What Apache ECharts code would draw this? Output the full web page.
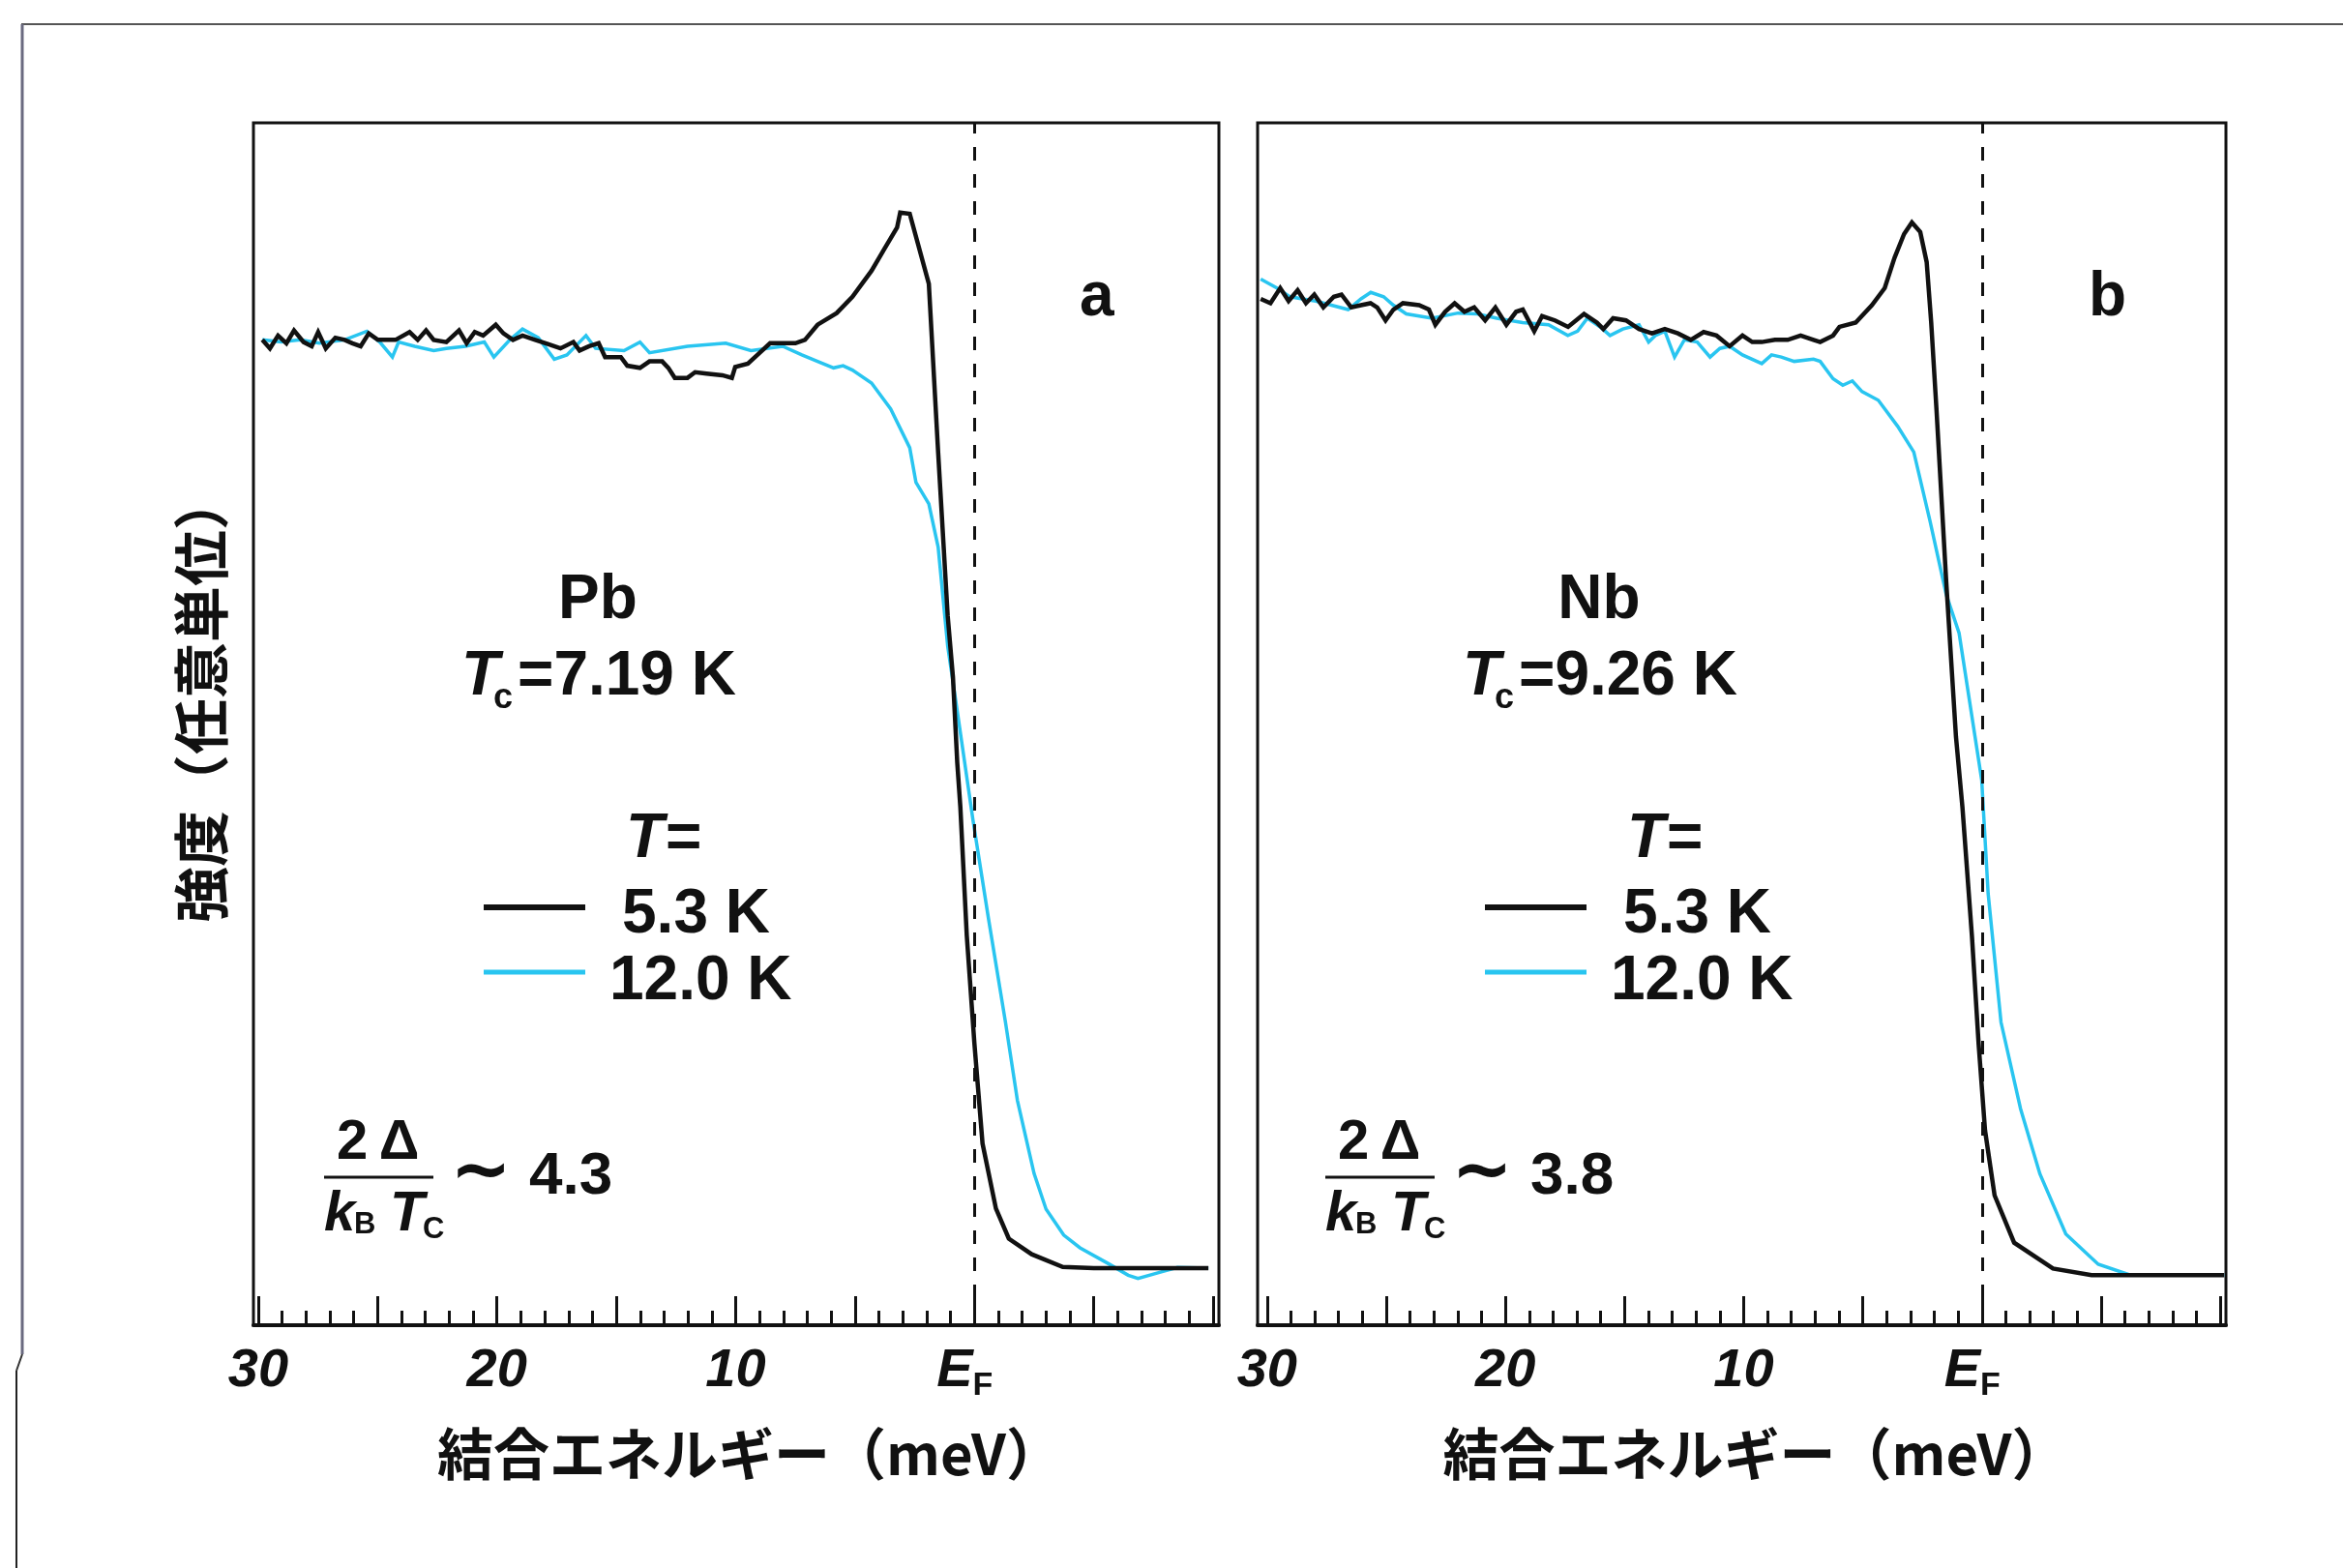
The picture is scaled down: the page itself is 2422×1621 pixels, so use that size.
<!DOCTYPE html>
<html>
<head>
<meta charset="utf-8">
<title>Pb / Nb 超伝導ギャップ</title>
<script src="https://cdn.jsdelivr.net/npm/echarts@6/dist/echarts.min.js"></script>
<style>
    html, body { margin: 0; padding: 0; background: #fff; }
    #chart { width: 2422px; height: 1621px; }
</style>
</head>
<body>
<div id="chart"></div>
<script>
// energy ticks (meV, binding energy; 0 = E_F)
let majorTicks = [-10, -5, 0, 5, 10, 15, 20, 25, 30];
let minorTicks = [-9, -8, -7, -6, -4, -3, -2, -1, 1, 2, 3, 4, 6, 7, 8, 9, 11, 12, 13, 14,
    16, 17, 18, 19, 21, 22, 23, 24, 26, 27, 28, 29];
let labelTicks = [0, 10, 20, 30];

// panel a : Pb, [binding energy, intensity]
let pbLow = [ // T = 5.3 K
    [29.83, 81.95], [29.51, 81.24], [29.17, 82.31], [28.82, 81.67], [28.50, 82.74], [28.10, 81.77],
    [27.76, 81.42], [27.49, 82.60], [27.17, 81.24], [26.77, 82.13], [26.38, 81.95], [26.06, 81.67],
    [25.71, 81.42], [25.37, 82.49], [24.99, 81.95], [24.25, 81.95], [23.66, 82.60], [23.32, 81.95],
    [22.97, 82.74], [22.65, 81.95], [22.12, 81.77], [21.59, 82.74], [21.27, 81.67], [20.93, 82.60],
    [20.58, 82.31], [20.05, 83.21], [19.73, 82.49], [19.33, 81.95], [18.93, 82.31], [18.40, 81.95],
    [17.87, 81.60], [17.34, 81.24], [16.80, 81.77], [16.54, 81.06], [16.14, 81.42], [15.74, 81.67],
    [15.47, 80.52], [14.81, 80.52], [14.54, 79.80], [14.01, 79.62], [13.61, 80.16], [13.08, 80.16],
    [12.82, 79.62], [12.55, 78.79], [12.02, 78.79], [11.70, 79.26], [11.22, 79.15], [10.56, 79.01],
    [10.16, 78.79], [10.02, 79.69], [9.49, 79.98], [9.09, 80.70], [8.56, 81.67], [7.50, 81.67],
    [7.10, 81.95], [6.57, 83.21], [5.77, 84.18], [5.11, 85.54], [4.31, 87.70], [3.78, 89.49],
    [3.24, 91.29], [3.11, 92.54], [2.71, 92.44], [1.91, 86.62], [1.52, 72.6], [1.12, 59.0],
    [0.90, 53.9], [0.72, 46.8], [0.59, 43.1], [0.32, 32.4], [0.0, 23.4], [-0.34, 15.1],
    [-0.9, 9.7], [-1.44, 7.2], [-2.4, 5.9], [-3.7, 4.85], [-5.0, 4.75], [-9.8, 4.75]
];
let pbHigh = [ // T = 12.0 K
    [29.83, 81.95], [29.03, 81.77], [28.24, 81.95], [27.44, 81.67], [26.38, 81.95], [25.45, 82.67],
    [24.91, 81.77], [24.38, 80.52], [24.12, 81.77], [23.45, 81.42], [22.65, 81.06], [22.12, 81.24],
    [21.32, 81.42], [20.53, 81.77], [20.13, 80.52], [19.46, 81.95], [18.93, 82.85], [18.27, 82.13],
    [17.60, 80.34], [17.07, 80.70], [16.27, 82.31], [15.87, 81.24], [14.68, 81.06], [14.01, 81.77],
    [13.61, 80.88], [12.02, 81.42], [10.42, 81.67], [9.36, 81.06], [8.03, 81.42], [7.23, 80.70],
    [6.57, 80.16], [5.90, 79.62], [5.50, 79.80], [5.11, 79.44], [4.31, 78.36], [3.51, 76.21],
    [2.71, 72.98], [2.45, 70.11], [1.91, 68.31], [1.52, 64.72], [1.12, 56.47], [0.72, 51.08],
    [0.06, 42.0], [-0.59, 33.8], [-1.3, 25.2], [-1.8, 18.7], [-2.5, 12.6], [-3.0, 9.65],
    [-3.74, 7.5], [-4.42, 6.44], [-5.63, 5.1], [-6.44, 4.16], [-6.85, 3.89], [-7.79, 4.42],
    [-8.5, 4.8], [-9.8, 4.75]
];

// panel b : Nb
let nbLow = [ // T = 5.3 K
    [30.27, 85.36], [29.86, 85.00], [29.45, 86.26], [29.10, 85.18], [28.72, 86.08], [28.37, 85.00],
    [28.02, 85.72], [27.64, 84.65], [27.20, 85.54], [26.88, 85.72], [26.47, 84.65], [26.06, 84.83],
    [25.66, 85.00], [25.38, 84.65], [25.03, 83.57], [24.70, 84.47], [24.30, 85.00], [23.62, 84.83],
    [23.21, 84.47], [22.94, 83.21], [22.53, 84.29], [22.13, 85.00], [21.72, 84.29], [21.31, 84.65],
    [20.85, 83.57], [20.42, 84.65], [19.96, 83.21], [19.55, 84.29], [19.27, 84.47], [18.79, 82.67],
    [18.46, 83.93], [17.92, 83.57], [17.37, 83.03], [16.70, 84.11], [16.16, 83.39], [15.89, 82.85],
    [15.48, 83.75], [14.94, 83.57], [14.39, 82.85], [13.85, 82.49], [13.31, 82.85], [12.76, 82.49],
    [12.22, 81.95], [11.68, 82.60], [11.14, 82.31], [10.59, 81.42], [10.05, 82.31], [9.64, 81.77],
    [9.24, 81.77], [8.69, 81.95], [8.15, 81.95], [7.61, 82.31], [7.07, 81.95], [6.79, 81.77],
    [6.25, 82.31], [5.98, 83.03], [5.30, 83.39], [4.62, 84.83], [4.08, 86.26], [3.67, 88.77],
    [3.27, 90.75], [2.94, 91.72], [2.59, 90.93], [2.32, 88.42], [2.13, 83.39], [1.91, 76.21],
    [1.50, 61.85], [1.09, 48.93], [0.82, 43.1], [0.42, 32.35], [0.14, 23.4], [-0.13, 16.2],
    [-0.53, 10.8], [-1.35, 6.86], [-2.98, 4.71], [-4.6, 4.17], [-10.17, 4.17]
];
let nbHigh = [ // T = 12.0 K
    [30.27, 87.0], [29.59, 86.26], [29.05, 85.54], [27.96, 85.18], [26.60, 84.47], [26.06, 85.36],
    [25.65, 85.90], [25.11, 85.54], [24.70, 84.83], [24.16, 84.11], [23.08, 83.75], [21.99, 84.18],
    [21.18, 84.11], [20.36, 83.75], [19.28, 83.39], [18.19, 83.21], [17.38, 82.31], [16.97, 82.67],
    [16.56, 83.75], [16.02, 83.03], [15.61, 82.31], [15.07, 82.85], [14.39, 83.21], [13.99, 81.77],
    [13.71, 82.31], [13.31, 82.67], [12.90, 80.52], [12.49, 81.95], [11.95, 81.77], [11.41, 80.52],
    [11.00, 81.24], [10.59, 81.42], [10.05, 80.70], [9.24, 79.98], [8.83, 80.70], [8.42, 80.52],
    [7.88, 80.16], [7.07, 80.34], [6.79, 80.16], [6.25, 78.72], [5.84, 78.18], [5.44, 78.54],
    [5.03, 77.65], [4.35, 76.93], [3.54, 74.77], [2.86, 72.62], [2.18, 66.88], [1.50, 60.77],
    [0.96, 57.57], [0.01, 45.34], [-0.26, 35.9], [-0.80, 25.2], [-1.62, 18.0], [-2.43, 12.6],
    [-3.52, 7.58], [-4.88, 5.07], [-6.23, 4.17], [-10.17, 4.17]
];

let black = '#111111';
let cyan = '#29c5f0';
let sans = '"Liberation Sans", Arial, sans-serif';
let cjk = '"Noto Sans CJK JP", sans-serif';

function energyAxes(gridIndex, min, max) {
    let major = {
        type: 'value', gridIndex: gridIndex, position: 'bottom', inverse: true,
        min: min, max: max,
        axisLine: { show: true, lineStyle: { color: black, width: 4 } },
        axisTick: { show: true, inside: true, length: 30, customValues: majorTicks,
            lineStyle: { color: black, width: 3 } },
        axisLabel: {
            show: true, customValues: labelTicks, margin: 20,
            fontFamily: sans, fontSize: 56, fontWeight: 'bold', fontStyle: 'italic', color: black,
            formatter: function (v) { return v === 0 ? '{e|E}{f|F}' : String(v); },
            rich: {
                e: { fontFamily: sans, fontSize: 56, fontWeight: 'bold', fontStyle: 'italic',
                    color: black, lineHeight: 60, verticalAlign: 'top' },
                f: { fontFamily: sans, fontSize: 34, fontWeight: 'bold', fontStyle: 'normal',
                    color: black, lineHeight: 34, verticalAlign: 'bottom', padding: [0, 20, 0, 0] }
            }
        },
        splitLine: { show: false },
        name: '結合エネルギー（meV）', nameLocation: 'middle', nameGap: 104,
        nameTextStyle: { fontFamily: cjk, fontSize: 58, fontWeight: 'bold', color: black,
            padding: [0, 0, 0, 28] }
    };
    let minor = {
        type: 'value', gridIndex: gridIndex, position: 'bottom', inverse: true,
        min: min, max: max,
        axisLine: { show: false },
        axisTick: { show: true, inside: true, length: 15, customValues: minorTicks,
            lineStyle: { color: black, width: 3 } },
        axisLabel: { show: false },
        splitLine: { show: false }
    };
    return [major, minor];
}

function lineSeries(data, axisIndex, color, width, z, withEF) {
    let s = {
        type: 'line', xAxisIndex: axisIndex, yAxisIndex: axisIndex / 2,
        data: data, showSymbol: false, symbol: 'none', z: z,
        lineStyle: { color: color, width: width, join: 'miter' }
    };
    if (withEF) {
        s.markLine = {
            silent: true, symbol: ['none', 'none'], label: { show: false },
            lineStyle: { color: black, width: 3, type: [14, 14] },
            data: [{ xAxis: 0 }]
        };
    }
    return s;
}

function txt(x, y, text, font, align) {
    return {
        type: 'text', x: x, y: y, silent: true,
        style: { text: text, font: font, fill: black, align: align || 'left', verticalAlign: 'middle' }
    };
}

function hline(x1, x2, y, color, width) {
    return { type: 'line', silent: true, shape: { x1: x1, y1: y, x2: x2, y2: y },
        style: { stroke: color, lineWidth: width } };
}

// annotations inside one panel, dx = horizontal shift of the panel
function panelText(dx, letter, letterX, metal, tc, ratio) {
    let big = 'bold 64px ' + sans;
    let bigIt = 'italic bold 64px ' + sans;
    let sub = 'bold 36px ' + sans;
    let mid = 'bold 58px ' + sans;
    let midIt = 'italic bold 58px ' + sans;
    let small = 'bold 31px ' + sans;
    return [
        txt(letterX, 308, letter, big),
        txt(618 + dx, 621, metal, big, 'center'),
        txt(477 + dx, 700, 'T', bigIt),
        txt(510 + dx, 722, 'c', sub),
        txt(535 + dx, 700, '=' + tc + ' K', big),
        txt(647 + dx, 868, 'T', bigIt),
        txt(688 + dx, 868, '=', big),
        hline(500 + dx, 605 + dx, 938, black, 6),
        txt(643 + dx, 946, '5.3 K', big),
        hline(500 + dx, 605 + dx, 1005, cyan, 5),
        txt(630 + dx, 1015, '12.0 K', big),
        txt(348 + dx, 1182, '2\u2009Δ', mid),
        hline(335 + dx, 448 + dx, 1217, black, 3),
        txt(335 + dx, 1256, 'k', midIt),
        txt(366 + dx, 1266, 'B', small),
        txt(403 + dx, 1256, 'T', midIt),
        txt(437 + dx, 1271, 'C', small),
        txt(497 + dx, 1214, '∼', 'bold 76px "DejaVu Sans"', 'center'),
        txt(547 + dx, 1217, ratio, 'bold 62px ' + sans)
    ];
}

let axesA = energyAxes(0, -10.24, 30.2);
let axesB = energyAxes(1, -10.24, 30.4);

let graphics = [
    hline(22, 2422, 25, '#555', 2),
    { type: 'line', silent: true, shape: { x1: 23, y1: 25, x2: 23, y2: 1400 },
        style: { stroke: '#6a6a80', lineWidth: 3 } },
    { type: 'line', silent: true, shape: { x1: 23, y1: 1400, x2: 17, y2: 1417 },
        style: { stroke: '#333', lineWidth: 2 } },
    { type: 'line', silent: true, shape: { x1: 17, y1: 1417, x2: 17, y2: 1621 },
        style: { stroke: '#222', lineWidth: 2 } },
    { type: 'text', x: 208, y: 722, rotation: Math.PI / 2, silent: true,
        style: { text: '強度（任意単位）', font: 'bold 58px ' + cjk, fill: black,
            align: 'center', verticalAlign: 'middle' } }
].concat(panelText(0, 'a', 1116, 'Pb', '7.19', '4.3'))
 .concat(panelText(1035, 'b', 2159, 'Nb', '9.26', '3.8'));

let option = {
    animation: false,
    backgroundColor: '#ffffff',
    grid: [
        { left: 262, top: 127, width: 998, height: 1243, show: true, borderColor: black, borderWidth: 3 },
        { left: 1300, top: 127, width: 1001, height: 1243, show: true, borderColor: black, borderWidth: 3 }
    ],
    xAxis: [axesA[0], axesA[1], axesB[0], axesB[1]],
    yAxis: [
        { type: 'value', gridIndex: 0, min: 0, max: 100, show: false },
        { type: 'value', gridIndex: 1, min: 0, max: 100, show: false }
    ],
    series: [
        lineSeries(pbHigh, 0, cyan, 3.5, 2, false),
        lineSeries(pbLow, 0, black, 4.5, 3, true),
        lineSeries(nbHigh, 2, cyan, 3.5, 2, false),
        lineSeries(nbLow, 2, black, 4.5, 3, true)
    ],
    graphic: graphics
};

let myChart = echarts.init(document.getElementById('chart'), null, { renderer: 'canvas' });
myChart.setOption(option);
</script>
</body>
</html>
